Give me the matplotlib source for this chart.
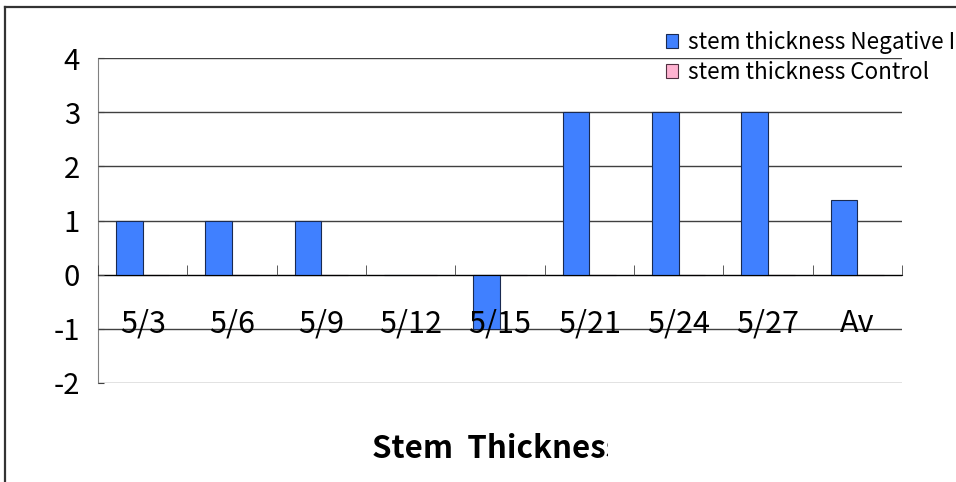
import matplotlib
matplotlib.use("Agg")
import matplotlib.pyplot as plt
import numpy as np
from matplotlib.lines import Line2D
from matplotlib.patches import Rectangle
from matplotlib.transforms import ScaledTranslation

plt.rcParams['font.family'] = ['Noto Sans CJK JP', 'DejaVu Sans']

categories = ["5/3", "5/6", "5/9", "5/12", "5/15", "5/21", "5/24", "5/27", "Av"]
negative_ion = [1, 1, 1, 0, -1, 3, 3, 3, 1.375]
control = [0, 0, 0, 0, 0, 0, 0, 0, 0]
series_names = ["stem thickness Negative Ion", "stem thickness Control"]
y_ticks = [-2, -1, 0, 1, 2, 3, 4]
title = "Stem  Thickness"

W, H = 956, 482
fig = plt.figure(figsize=(W / 100, H / 100), dpi=100)
ax = fig.add_axes([98 / W, 99 / H, 804 / W, 325 / H])
ax.set_axisbelow(False)

x = np.arange(len(categories))
w = 0.3
b1 = ax.bar(x - w / 2, negative_ion, w, color="#4080FF", edgecolor="#1a2a50",
            linewidth=0.8, zorder=2)
b2 = ax.bar(x + w / 2, control, w, color="#FFB3D1", edgecolor="#503040",
            linewidth=0.8, zorder=2)

ax.set_xlim(-0.5, len(categories) - 0.5)
ax.set_ylim(-2, 4)

# horizontal gridlines
for yv in y_ticks:
    ax.axhline(yv, color="#404040" if yv > -2 else "#707070", lw=1, zorder=1)

for s in ["top", "right"]:
    ax.spines[s].set_visible(False)
ax.spines["left"].set_color("#808080")
ax.spines["bottom"].set_position(("data", 0))
ax.spines["bottom"].set_color("black")

ax.set_yticks(y_ticks)
ax.set_yticklabels([str(v) for v in y_ticks], fontsize=21)
shift = ScaledTranslation(0, -0.07, fig.dpi_scale_trans)
for lbl in ax.get_yticklabels():
    lbl.set_transform(lbl.get_transform() + shift)
ax.tick_params(axis="y", direction="in", length=4, color="#404040", pad=13)

ax.set_xticks(x)
ax.set_xticklabels(categories, fontsize=22)
ax.set_xticks(np.arange(len(categories) + 1) - 0.5, minor=True)
ax.tick_params(axis="x", which="major", length=0, pad=24)
ax.tick_params(axis="x", which="minor", direction="in", length=7, color="#404040")

leg = fig.legend([b1, b2], series_names, loc="upper left",
                 bbox_to_anchor=(666 / W, 1 - 31 / H),
                 frameon=False, fontsize=16.2, handlelength=0.55, handleheight=0.55,
                 handletextpad=0.45, labelspacing=0.32, borderaxespad=0, borderpad=0)

# outer chart frame (left and top edges)
fig.add_artist(Line2D([5 / W, 5 / W], [0, 1 - 7 / H], color="#333333", lw=1.6))
fig.add_artist(Line2D([5 / W, 1], [1 - 7 / H, 1 - 7 / H], color="#333333", lw=1.6))

fig.text(372 / W, 1 - 449 / H, title, fontsize=22.5, fontweight="bold",
         ha="left", va="center")
# title box cut off on its right side
fig.add_artist(Rectangle((608 / W, 0), 120 / W, 1 - 415 / H,
                         transform=fig.transFigure, facecolor="white",
                         edgecolor="none", zorder=10))

fig.savefig("out.png", dpi=100)
